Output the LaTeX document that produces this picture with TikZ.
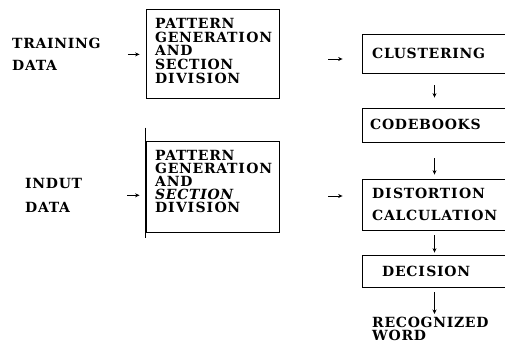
\documentclass[tikz,border=0pt]{standalone}
\usepackage{fontspec}
\setmainfont{DejaVu Serif}[LetterSpace=5]
\usetikzlibrary{arrows.meta,calc}
\newcommand{\Ik}{I\kern1.5pt}
\begin{document}
\begin{tikzpicture}[x=1pt,y=-1pt,
  box/.style={draw, line width=0.8pt, inner sep=0pt},
  lbl/.style={font=\fontsize{14}{14}\selectfont\bfseries, align=left, inner sep=0pt},
  arr/.style={-{Stealth[length=4.5pt,width=4pt]}, line width=0.9pt}]
\useasboundingbox (0,0) rectangle (505,345);
% left labels
\node[lbl, anchor=north west, font=\fontsize{14}{22}\selectfont\bfseries] (train) at (12,38) {TRAINING\\DATA};
\node[lbl, anchor=north west, font=\fontsize{14}{24}\selectfont\bfseries] (input) at (25,178) {INDUT\\DATA};
% middle boxes
\node[box, minimum width=133pt, minimum height=89pt] (box1) at (212.5,53.5) {};
\node[lbl, anchor=north west, font=\fontsize{14}{13.75}\selectfont\bfseries] (t1) at (155,18) {PATTERN\\GENERAT\Ik ON\\AND\\SECTION\\D\Ik V\Ik S\Ik ON};
\node[box, minimum width=133pt, minimum height=91pt] (box2) at (212.5,186.5) {};
\node[lbl, anchor=north west, font=\fontsize{14}{13}\selectfont\bfseries] (t2) at (155,150) {PATTERN\\GENERAT\Ik ON\\AND\\{\itshape SECTION}\\D\Ik V\Ik S\Ik ON};
\draw[line width=0.8pt] ([yshift=13pt]box2.north west) -- ([yshift=-6pt]box2.south west);
% right column
\node[box, minimum width=145pt, minimum height=39pt] (clus) at (434.5,53.5) {};
\node[lbl, anchor=west] (tclus) at (372,53) {CLUSTERING};
\node[box, minimum width=145pt, minimum height=34pt] (code) at (434.5,125) {};
\node[lbl, anchor=west] (tcode) at (370,124) {CODEBOOKS};
\node[box, minimum width=145pt, minimum height=51pt] (dist) at (434.5,204.5) {};
\node[lbl, anchor=north west, font=\fontsize{14}{22}\selectfont\bfseries] (tdist) at (372,188) {D\Ik STORT\Ik ON\\CALCULAT\Ik ON};
\node[box, minimum width=145pt, minimum height=32pt] (dec) at (434.5,271) {};
\node[lbl, anchor=west] (tdec) at (382,271) {DEC\Ik SION};
\node[lbl, anchor=north west, font=\fontsize{14}{13}\selectfont\bfseries] (rec) at (372,317) {RECOGNIZED\\WORD};
% arrows
\draw[arr, shorten <=27pt, shorten >=6pt] (train.east) -- (train.east -| box1.west);
\draw[arr, shorten <=45pt, shorten >=6pt] (input.east) -- (input.east -| box2.west);
\draw[arr, shorten <=49pt, shorten >=19pt] ([yshift=-5.5pt]box1.east) -- ([yshift=-5.5pt]box1.east -| clus.west);
\draw[arr, shorten <=49pt, shorten >=19pt] ([yshift=-9.5pt]box2.east) -- ([yshift=-9.5pt]box2.east -| dist.west);
\draw[arr, shorten <=12pt, shorten >=10pt] (clus.south) -- (code.north);
\draw[arr, shorten <=16pt, shorten >=4pt] (code.south) -- (dist.north);
\draw[arr, shorten <=5pt, shorten >=2pt] (dist.south) -- (dec.north);
\draw[arr, shorten <=5pt, shorten >=3pt] (dec.south) -- (dec.south |- rec.north);
\end{tikzpicture}
\end{document}
